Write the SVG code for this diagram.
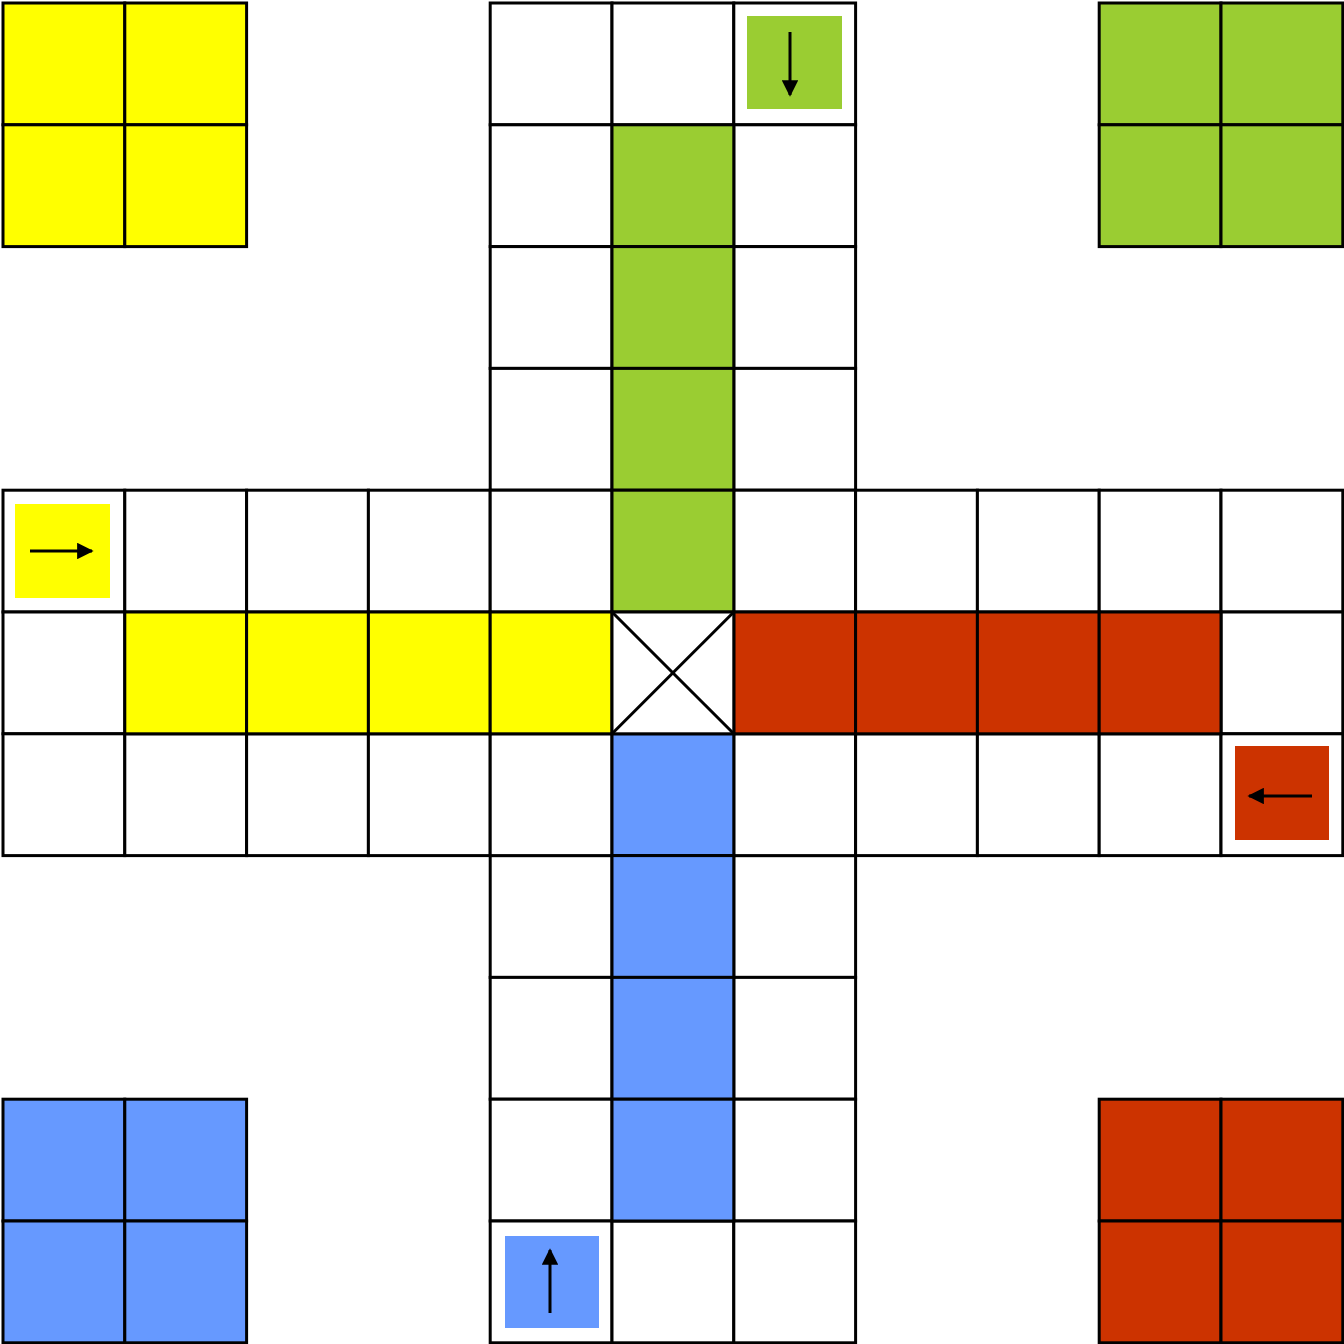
<svg xmlns="http://www.w3.org/2000/svg" width="1344" height="1344" viewBox="0 0 1344 1344">
<defs>
<style>
.c{stroke:#000;stroke-width:3;fill:#fff}
.y{fill:#FFFF00}
.g{fill:#9ACD32}
.r{fill:#CC3300}
.b{fill:#6699FF}
.s{stroke:none}
.a{stroke:#000;stroke-width:3;fill:none}
</style>
<marker id="ah" viewBox="0 0 10 10" refX="9" refY="5" markerWidth="6.5" markerHeight="5.5" orient="auto" markerUnits="strokeWidth">
<path d="M0,0 L10,5 L0,10 z" fill="#000"/>
</marker>
</defs>
<rect width="1344" height="1344" fill="#fff"/>
<g id="base-yellow">
<rect class="c y" x="3" y="3" width="121.8" height="121.8"/>
<rect class="c y" x="124.8" y="3" width="121.8" height="121.8"/>
<rect class="c y" x="3" y="124.8" width="121.8" height="121.8"/>
<rect class="c y" x="124.8" y="124.8" width="121.8" height="121.8"/>
</g>
<g id="base-green">
<rect class="c g" x="1099.2" y="3" width="121.8" height="121.8"/>
<rect class="c g" x="1221" y="3" width="121.8" height="121.8"/>
<rect class="c g" x="1099.2" y="124.8" width="121.8" height="121.8"/>
<rect class="c g" x="1221" y="124.8" width="121.8" height="121.8"/>
</g>
<g id="base-blue">
<rect class="c b" x="3" y="1099.2" width="121.8" height="121.8"/>
<rect class="c b" x="124.8" y="1099.2" width="121.8" height="121.8"/>
<rect class="c b" x="3" y="1221" width="121.8" height="121.8"/>
<rect class="c b" x="124.8" y="1221" width="121.8" height="121.8"/>
</g>
<g id="base-red">
<rect class="c r" x="1099.2" y="1099.2" width="121.8" height="121.8"/>
<rect class="c r" x="1221" y="1099.2" width="121.8" height="121.8"/>
<rect class="c r" x="1099.2" y="1221" width="121.8" height="121.8"/>
<rect class="c r" x="1221" y="1221" width="121.8" height="121.8"/>
</g>
<g id="track-top">
<rect class="c" x="490.2" y="3" width="121.8" height="121.8"/>
<rect class="c" x="612" y="3" width="121.8" height="121.8"/>
<rect class="c" x="733.8" y="3" width="121.8" height="121.8"/>
<rect class="c" x="490.2" y="124.8" width="121.8" height="121.8"/>
<rect class="c" x="733.8" y="124.8" width="121.8" height="121.8"/>
<rect class="c" x="490.2" y="246.6" width="121.8" height="121.8"/>
<rect class="c" x="733.8" y="246.6" width="121.8" height="121.8"/>
<rect class="c" x="490.2" y="368.4" width="121.8" height="121.8"/>
<rect class="c" x="733.8" y="368.4" width="121.8" height="121.8"/>
</g>
<g id="track-bottom">
<rect class="c" x="490.2" y="855.6" width="121.8" height="121.8"/>
<rect class="c" x="733.8" y="855.6" width="121.8" height="121.8"/>
<rect class="c" x="490.2" y="977.4" width="121.8" height="121.8"/>
<rect class="c" x="733.8" y="977.4" width="121.8" height="121.8"/>
<rect class="c" x="490.2" y="1099.2" width="121.8" height="121.8"/>
<rect class="c" x="733.8" y="1099.2" width="121.8" height="121.8"/>
<rect class="c" x="490.2" y="1221" width="121.8" height="121.8"/>
<rect class="c" x="612" y="1221" width="121.8" height="121.8"/>
<rect class="c" x="733.8" y="1221" width="121.8" height="121.8"/>
</g>
<g id="track-left">
<rect class="c" x="3" y="490.2" width="121.8" height="121.8"/>
<rect class="c" x="124.8" y="490.2" width="121.8" height="121.8"/>
<rect class="c" x="246.6" y="490.2" width="121.8" height="121.8"/>
<rect class="c" x="368.4" y="490.2" width="121.8" height="121.8"/>
<rect class="c" x="490.2" y="490.2" width="121.8" height="121.8"/>
<rect class="c" x="3" y="612" width="121.8" height="121.8"/>
<rect class="c" x="3" y="733.8" width="121.8" height="121.8"/>
<rect class="c" x="124.8" y="733.8" width="121.8" height="121.8"/>
<rect class="c" x="246.6" y="733.8" width="121.8" height="121.8"/>
<rect class="c" x="368.4" y="733.8" width="121.8" height="121.8"/>
<rect class="c" x="490.2" y="733.8" width="121.8" height="121.8"/>
</g>
<g id="track-right">
<rect class="c" x="733.8" y="490.2" width="121.8" height="121.8"/>
<rect class="c" x="855.6" y="490.2" width="121.8" height="121.8"/>
<rect class="c" x="977.4" y="490.2" width="121.8" height="121.8"/>
<rect class="c" x="1099.2" y="490.2" width="121.8" height="121.8"/>
<rect class="c" x="1221" y="490.2" width="121.8" height="121.8"/>
<rect class="c" x="1221" y="612" width="121.8" height="121.8"/>
<rect class="c" x="733.8" y="733.8" width="121.8" height="121.8"/>
<rect class="c" x="855.6" y="733.8" width="121.8" height="121.8"/>
<rect class="c" x="977.4" y="733.8" width="121.8" height="121.8"/>
<rect class="c" x="1099.2" y="733.8" width="121.8" height="121.8"/>
<rect class="c" x="1221" y="733.8" width="121.8" height="121.8"/>
</g>
<g id="home-green">
<rect class="c g" x="612" y="124.8" width="121.8" height="121.8"/>
<rect class="c g" x="612" y="246.6" width="121.8" height="121.8"/>
<rect class="c g" x="612" y="368.4" width="121.8" height="121.8"/>
<rect class="c g" x="612" y="490.2" width="121.8" height="121.8"/>
</g>
<g id="home-yellow">
<rect class="c y" x="124.8" y="612" width="121.8" height="121.8"/>
<rect class="c y" x="246.6" y="612" width="121.8" height="121.8"/>
<rect class="c y" x="368.4" y="612" width="121.8" height="121.8"/>
<rect class="c y" x="490.2" y="612" width="121.8" height="121.8"/>
</g>
<g id="home-red">
<rect class="c r" x="733.8" y="612" width="121.8" height="121.8"/>
<rect class="c r" x="855.6" y="612" width="121.8" height="121.8"/>
<rect class="c r" x="977.4" y="612" width="121.8" height="121.8"/>
<rect class="c r" x="1099.2" y="612" width="121.8" height="121.8"/>
</g>
<g id="home-blue">
<rect class="c b" x="612" y="733.8" width="121.8" height="121.8"/>
<rect class="c b" x="612" y="855.6" width="121.8" height="121.8"/>
<rect class="c b" x="612" y="977.4" width="121.8" height="121.8"/>
<rect class="c b" x="612" y="1099.2" width="121.8" height="121.8"/>
</g>
<g id="center">
<rect class="c" x="612" y="612" width="121.8" height="121.8"/>
<line class="a" x1="612" y1="612" x2="733.8" y2="733.8"/>
<line class="a" x1="733.8" y1="612" x2="612" y2="733.8"/>
</g>
<g id="start-green">
<rect class="g s" x="747" y="16" width="95" height="93"/>
<line class="a" x1="790" y1="32" x2="790" y2="95" marker-end="url(#ah)"/>
</g>
<g id="start-yellow">
<rect class="y s" x="15" y="504" width="95" height="94"/>
<line class="a" x1="30" y1="551" x2="92" y2="551" marker-end="url(#ah)"/>
</g>
<g id="start-red">
<rect class="r s" x="1235" y="746" width="94" height="94"/>
<line class="a" x1="1312" y1="796" x2="1249" y2="796" marker-end="url(#ah)"/>
</g>
<g id="start-blue">
<rect class="b s" x="505" y="1236" width="94" height="92"/>
<line class="a" x1="550" y1="1313" x2="550" y2="1250" marker-end="url(#ah)"/>
</g>
</svg>
